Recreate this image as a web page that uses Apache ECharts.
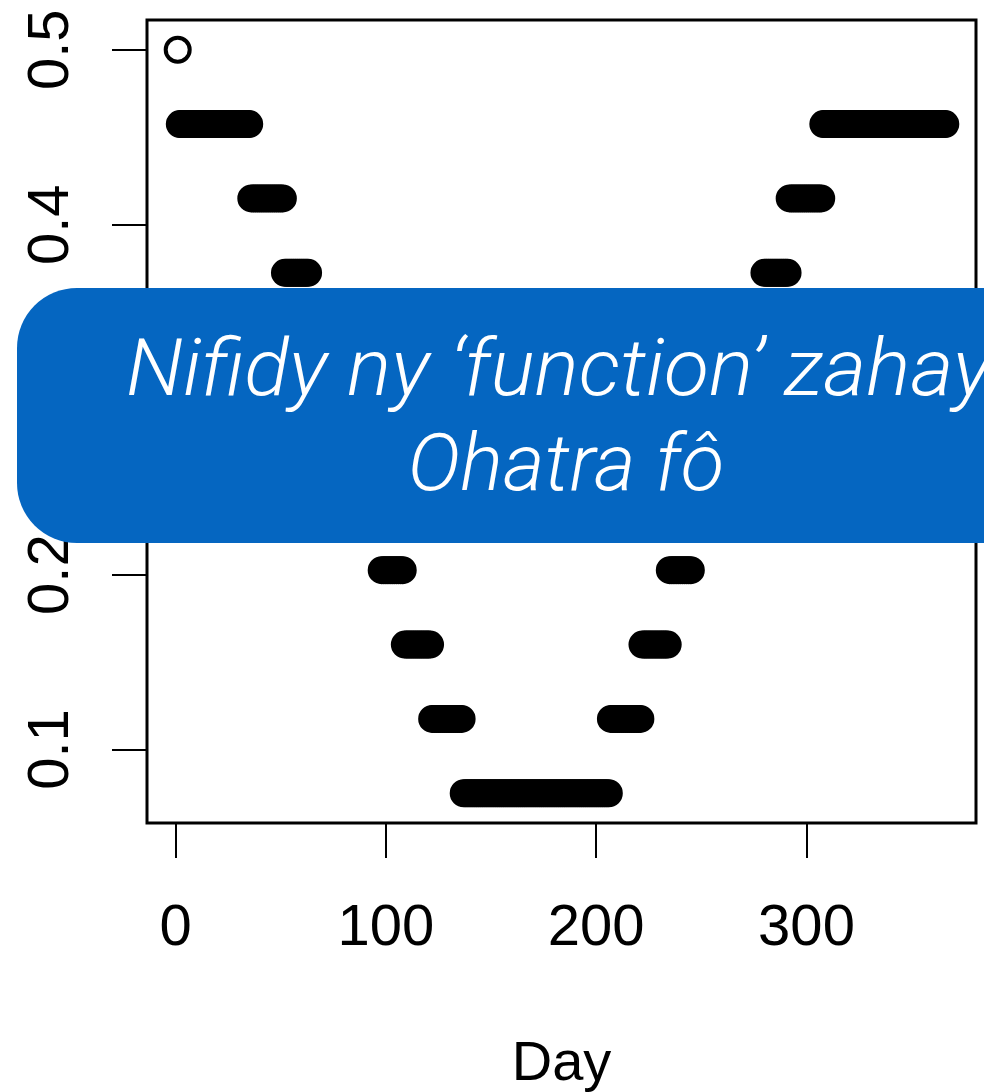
<!DOCTYPE html>
<html>
<head>
<meta charset="utf-8">
<script src="https://cdn.jsdelivr.net/npm/echarts@6/dist/echarts.min.js"></script>
<style>
html,body{margin:0;padding:0;background:#fff;}
#c{width:984px;height:1092px;}
</style>
</head>
<body>
<div id="c"></div>
<script>
// Runs of equal value: first day, last day, value
const runStart = [1,   2,      36,    52,     64,   75,     87,    98,     109,  122,    137,   207,    222,  235,    246,   257,    269,  280,    292,   308];
const runEnd   = [1,   35,     51,    63,     74,   86,     97,    108,    121,  136,    206,   221,    234,  245,    256,   268,    279,  291,    307,   366];
const runValue = [0.5, 0.4575, 0.415, 0.3725, 0.33, 0.2875, 0.245, 0.2025, 0.16, 0.1175, 0.075, 0.1175, 0.16, 0.2025, 0.245, 0.2875, 0.33, 0.3725, 0.415, 0.4575];

const xTicks = [0, 100, 200, 300];
const yTicks = [0.1, 0.2, 0.3, 0.4, 0.5];
const xTitle = 'Day';
const overlayLines = ['Nifidy ny \u2018function\u2019 zahay.', 'Ohatra f\u00f4'];

const points = [];
for (let i = 0; i < runStart.length; i++) {
  for (let d = runStart[i]; d <= runEnd[i]; d++) points.push([d, runValue[i]]);
}

const chart = echarts.init(document.getElementById('c'), null, {renderer: 'canvas'});
const labelFont = '"Liberation Sans", Arial, Helvetica, sans-serif';
const overlayFont = 'Roboto, "Open Sans", Lato, sans-serif';
chart.setOption({
  animation: false,
  backgroundColor: '#fff',
  grid: {left: 147, top: 20, right: 8, bottom: 269, show: true, borderColor: '#000', borderWidth: 3,
    backgroundColor: 'transparent', containLabel: false, outerBoundsMode: 'none'},
  xAxis: {
    type: 'value', min: -13.6, max: 380.6,
    axisLine: {show: false, onZero: false},
    splitLine: {show: false},
    axisTick: {show: true, length: 35, customValues: xTicks, lineStyle: {color: '#000', width: 2}},
    axisLabel: {customValues: xTicks, color: '#000', fontSize: 58, fontFamily: labelFont, margin: 77},
    name: xTitle, nameLocation: 'middle', nameGap: 214,
    nameTextStyle: {color: '#000', fontSize: 56, fontFamily: labelFont}
  },
  yAxis: {
    type: 'value', min: 0.058, max: 0.517,
    axisLine: {show: false, onZero: false},
    splitLine: {show: false},
    axisTick: {show: true, length: 35, customValues: yTicks, lineStyle: {color: '#000', width: 2}},
    axisLabel: {customValues: yTicks, rotate: 90, color: '#000', fontSize: 58, fontFamily: labelFont, margin: 66,
      formatter: v => v.toFixed(1)}
  },
  series: [{
    type: 'scatter',
    data: points,
    symbol: 'circle',
    symbolSize: 24,
    silent: true,
    z: 2,
    itemStyle: {color: 'rgba(0,0,0,0)', borderColor: '#000', borderWidth: 4, opacity: 1},
    emphasis: {disabled: true}
  }],
  graphic: {
    elements: [
      {type: 'rect', z: 1000, zlevel: 1, shape: {x: 17, y: 288, width: 1100, height: 255, r: 60}, style: {fill: '#0566c1'}},
      {type: 'text', z: 1001, zlevel: 1, x: 566, y: 375, scaleX: 1.035, style: {text: overlayLines[0], fill: '#fff', fontSize: 80, fontStyle: 'italic', fontWeight: 300, fontFamily: overlayFont, align: 'center', verticalAlign: 'middle'}},
      {type: 'text', z: 1001, zlevel: 1, x: 566, y: 470, style: {text: overlayLines[1], fill: '#fff', fontSize: 80, fontStyle: 'italic', fontWeight: 300, fontFamily: overlayFont, align: 'center', verticalAlign: 'middle'}}
    ]
  }
});
</script>
</body>
</html>
